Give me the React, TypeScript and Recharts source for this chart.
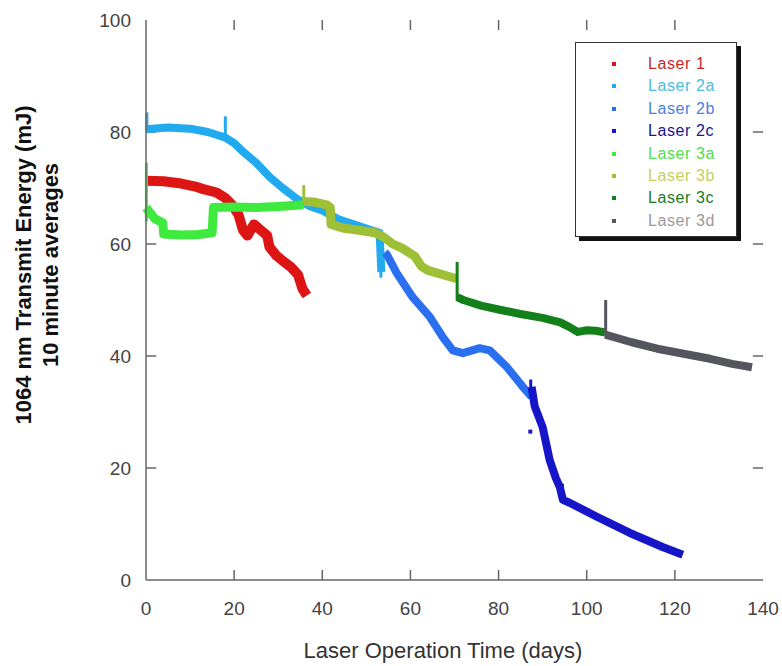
import { ComposedChart, Line, Scatter, XAxis, YAxis, Legend, Label } from "recharts";

// [day, mJ]
const laser1 = [
  [0, 71.3], [4, 71.2], [8, 70.8], [11, 70.3], [13, 69.8], [16, 69.2], [18, 68.2],
  [19.5, 67], [21, 65.2], [22, 62.5], [23, 61.5], [24.5, 63.5], [26, 62.5],
  [27.5, 61.5], [28, 59.5], [29.5, 58], [31, 57], [33, 55.8], [34.5, 54.5],
  [35.5, 52], [36.5, 50.8],
];
const laser2a = [
  [0, 80.5], [5, 80.8], [10, 80.6], [14, 80], [16, 79.5], [18, 79], [20, 78],
  [22, 76.5], [25, 74.5], [28, 72], [31, 70], [34, 68.2], [37, 66.8], [40, 66],
  [44, 64.3], [48, 63.3], [51, 62.5], [53, 62], [53.4, 55],
];
const laser2b = [
  [54.2, 58.5], [54.6, 58.2], [56.9, 54.8], [60.5, 50.5], [64.4, 47], [67.3, 43.4],
  [69.6, 41], [71.9, 40.5], [75.7, 41.4], [78, 41], [81.9, 38], [85.5, 34.5],
  [87.5, 32.7],
];
const laser2c = [
  [87.5, 34.5], [88.2, 31], [90, 27.3], [91.6, 21.4], [93, 18.2], [93.9, 16.6],
  [94.6, 14.3], [96.1, 13.8], [102.3, 11.3], [109.8, 8.4], [117.2, 5.9], [121.8, 4.5],
];
const laser3a = [
  [0, 66.5], [2, 64.5], [3.8, 63.8], [4, 61.8], [8, 61.6], [12, 61.7], [15, 62],
  [15.3, 66.5], [20, 66.6], [25, 66.5], [30, 66.7], [35.7, 67],
];
const laser3b = [
  [35.7, 67.6], [38, 67.5], [41, 67], [41.8, 66.5], [42, 63.5], [45, 62.8],
  [48, 62.5], [52, 62], [54, 61.2], [56, 60], [58, 59.3], [61, 57.8], [62.5, 56],
  [64, 55.3], [67, 54.6], [70.5, 53.8],
];
const laser3c = [
  [70.6, 50.5], [72, 50], [76, 49], [80, 48.3], [85, 47.5], [90, 46.8], [94, 46],
  [96, 45.2], [98, 44.3], [100, 44.6], [102, 44.5], [104.2, 44.2],
];
const laser3d = [
  [104.2, 43.8], [110, 42.5], [116, 41.3], [122, 40.4], [128, 39.5], [133, 38.6],
  [137.5, 38],
];

// short vertical excursions: [day, low, high]
const spikes2a = [[0.2, 80, 83.5], [18, 79, 82.8], [53.3, 54, 60]];
const spikes2c = [[87.3, 33, 35.8], [94.5, 14.5, 17.2]];
const spikes3a = [[0.1, 64, 74.5]];
const spikes3b = [[35.8, 67.5, 70.5]];
const spikes3c = [[70.6, 50, 56.8]];
const spikes3d = [[104.3, 43.8, 50]];
const outlier2c = [[87.2, 26.5]];

const xTicks = [0, 20, 40, 60, 80, 100, 120, 140];
const yTicks = [0, 20, 40, 60, 80, 100];

const pts = (a: number[][]) => a.map(([day, mJ]) => ({ day, mJ }));

const SERIES = [
  { name: "Laser 1", data: laser1, spikes: [], stroke: "#dd1515", text: "#c42828", width: 10 },
  { name: "Laser 2a", data: laser2a, spikes: spikes2a, stroke: "#22aaee", text: "#48bde0", width: 8 },
  { name: "Laser 2b", data: laser2b, spikes: [], stroke: "#2a6ff0", text: "#4a80e6", width: 8 },
  { name: "Laser 2c", data: laser2c, spikes: spikes2c, stroke: "#1616c8", text: "#15158e", width: 8 },
  { name: "Laser 3a", data: laser3a, spikes: spikes3a, stroke: "#3eea3e", text: "#4ede4e", width: 9 },
  { name: "Laser 3b", data: laser3b, spikes: spikes3b, stroke: "#9fbf36", text: "#c6d05c", width: 9 },
  { name: "Laser 3c", data: laser3c, spikes: spikes3c, stroke: "#13801a", text: "#1c7a1c", width: 8 },
  { name: "Laser 3d", data: laser3d, spikes: spikes3d, stroke: "#55555e", text: "#9a9a9a", width: 8 },
];

const FONT = "'Liberation Sans', Arial, sans-serif";
const AXIS = "#666";
// inward tick length expressed in axis units (~10px)
const X_TICK = 2.3;
const Y_TICK = 1.8;

function LegendBox() {
  return (
    <div
      style={{
        width: 162,
        height: 195,
        boxSizing: "border-box",
        border: "1.5px solid #333",
        boxShadow: "4px 4px 0 #111",
        background: "#fff",
        position: "relative",
        fontFamily: FONT,
        fontSize: 16,
      }}
    >
      {SERIES.map((s, i) => (
        <div key={s.name} style={{ position: "absolute", left: 0, top: 11 + i * 22.4, height: 20, width: "100%" }}>
          <span style={{ position: "absolute", left: 36, top: 8, width: 4, height: 4, background: s.stroke }} />
          <span style={{ position: "absolute", left: 72, top: 0, lineHeight: "20px", color: s.text, letterSpacing: 0.6, whiteSpace: "nowrap" }}>
            {s.name}
          </span>
        </div>
      ))}
    </div>
  );
}

const yLabel = (props: any) => {
  const vb = props.viewBox || { y: 20 };
  const cy = vb.y + 245;
  return (
    <g fontFamily={FONT} fontWeight="bold" fontSize={22} fill="#111" textAnchor="middle">
      <text transform={`translate(23, ${cy}) rotate(-90)`} dy="0.35em">
        1064 nm Transmit Energy (mJ)
      </text>
      <text transform={`translate(50, ${cy}) rotate(-90)`} dy="0.35em">
        10 minute averages
      </text>
    </g>
  );
};

const xLabel = (props: any) => {
  const vb = props.viewBox || { x: 146, y: 580 };
  return (
    <text x={vb.x + 297} y={vb.y + 70} dy="0.35em" fontFamily={FONT} fontSize={22} fill="#333" textAnchor="middle">
      Laser Operation Time (days)
    </text>
  );
};

const tickStyle = { fill: "#444", fontSize: 19, fontFamily: FONT };

export default function App() {
  // inward tick marks on all four sides of the frame
  const tickMarks = [
    ...xTicks.slice(1, -1).flatMap((v) => [
      [[v, 0], [v, Y_TICK]],
      [[v, 100], [v, 100 - Y_TICK]],
    ]),
    ...yTicks.slice(1, -1).flatMap((v) => [
      [[0, v], [X_TICK, v]],
      [[140, v], [140 - X_TICK, v]],
    ]),
  ];

  return (
    <div style={{ position: "absolute", left: 0, top: 0, width: 782, height: 666, background: "#fff" }}>
      <ComposedChart width={782} height={666} margin={{ top: 20, right: 19, bottom: 0, left: 0 }}>
        <XAxis
          xAxisId="b"
          type="number"
          dataKey="day"
          domain={[0, 140]}
          ticks={xTicks}
          height={86}
          stroke={AXIS}
          strokeWidth={1.5}
          tickLine={false}
          tickSize={0}
          tickMargin={22}
          tick={tickStyle}
        >
          <Label content={xLabel} />
        </XAxis>
        <XAxis
          xAxisId="t"
          orientation="top"
          type="number"
          dataKey="day"
          domain={[0, 140]}
          ticks={xTicks}
          height={0}
          stroke={AXIS}
          strokeWidth={1.5}
          tickLine={false}
          tick={false}
        />
        <YAxis
          yAxisId="l"
          type="number"
          dataKey="mJ"
          domain={[0, 100]}
          ticks={yTicks}
          width={146}
          stroke={AXIS}
          strokeWidth={1.5}
          tickLine={false}
          tickSize={0}
          tickMargin={15}
          tick={tickStyle}
        >
          <Label content={yLabel} />
        </YAxis>
        <YAxis
          yAxisId="r"
          orientation="right"
          type="number"
          dataKey="mJ"
          domain={[0, 100]}
          ticks={yTicks}
          width={0}
          stroke={AXIS}
          strokeWidth={1.5}
          tickLine={false}
          tick={false}
        />
        {tickMarks.map((seg, i) => (
          <Line
            key={`tk-${i}`}
            xAxisId="b"
            yAxisId="l"
            data={pts(seg)}
            dataKey="mJ"
            stroke={AXIS}
            strokeWidth={1.5}
            dot={false}
            activeDot={false}
            legendType="none"
            isAnimationActive={false}
          />
        ))}
        {SERIES.map((s) => [
          <Line
            key={s.name}
            xAxisId="b"
            yAxisId="l"
            data={pts(s.data)}
            dataKey="mJ"
            name={s.name}
            stroke={s.stroke}
            strokeWidth={s.width}
            strokeLinejoin="round"
            dot={false}
            activeDot={false}
            isAnimationActive={false}
          />,
          ...s.spikes.map(([day, lo, hi], j) => (
            <Line
              key={`${s.name}-spike-${j}`}
              xAxisId="b"
              yAxisId="l"
              data={pts([[day, lo], [day, hi]])}
              dataKey="mJ"
              stroke={s.stroke}
              strokeWidth={3}
              dot={false}
              activeDot={false}
              legendType="none"
              isAnimationActive={false}
            />
          )),
        ])}
        <Scatter
          xAxisId="b"
          yAxisId="l"
          data={pts(outlier2c)}
          dataKey="mJ"
          fill="#1616c8"
          legendType="none"
          shape={(p: any) => <rect x={p.cx - 2} y={p.cy - 2} width={4} height={4} fill="#1616c8" />}
          isAnimationActive={false}
        />
        <Legend
          layout="vertical"
          align="center"
          verticalAlign="middle"
          content={() => <LegendBox />}
          wrapperStyle={{ left: 575, top: 42, width: 165, height: 200 }}
        />
      </ComposedChart>
    </div>
  );
}
